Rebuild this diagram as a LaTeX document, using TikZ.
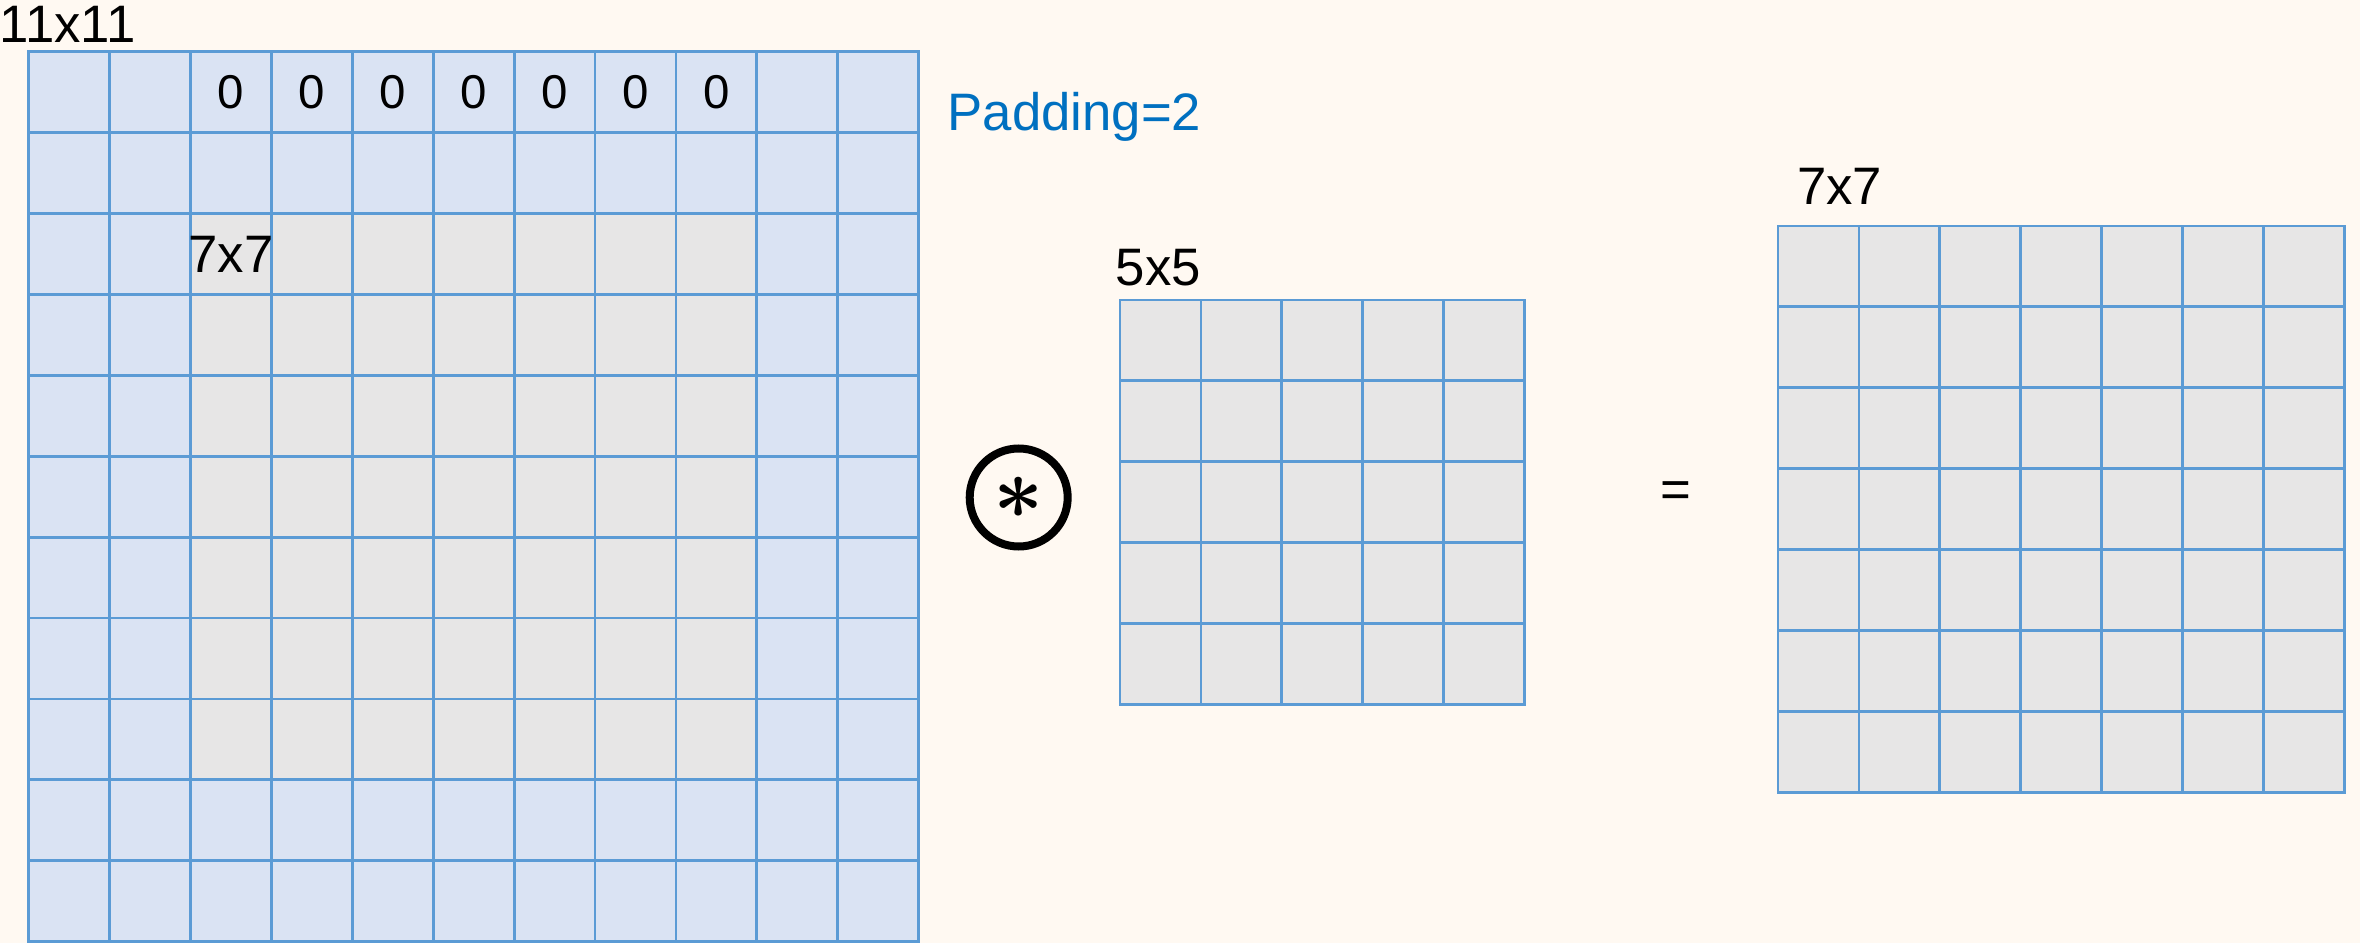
\documentclass[tikz,border=0pt]{standalone}
\usepackage{fontspec}
\setmainfont{Liberation Sans}
\usetikzlibrary{calc}
\definecolor{paper}{HTML}{FFF9F2}
\definecolor{padblue}{HTML}{DAE3F3}
\definecolor{coregray}{HTML}{E7E6E6}
\definecolor{gridline}{HTML}{5B9BD5}
\definecolor{padtext}{HTML}{0070C0}
\tikzstyle{cell}=[draw=gridline, line width=0.8pt, minimum size=0.809cm, inner sep=0pt, outer sep=0pt]
\tikzstyle{dim}=[anchor=base west, inner sep=0pt, font=\fontsize{15}{18}\selectfont]
\tikzstyle{zero}=[inner sep=0pt, font=\fontsize{13.5}{16}\selectfont]

\begin{document}
\begin{tikzpicture}
    \useasboundingbox (0, 0) rectangle (23.6, 9.43);
    \fill[paper] (0, 0) rectangle (23.6, 9.43);
    \def\cw{0.809}

    \coordinate (in) at (0.287, 8.913);
    \coordinate (ker) at (11.2, 6.43);
    \coordinate (out) at (17.78, 7.17);

    % padded input, 11x11
    \foreach \i in {0,...,10}
        \foreach \j in {0,...,10} {
            \pgfmathtruncatemacro{\core}{(\i>1)*(\i<9)*(\j>1)*(\j<9)}
            \ifnum\core=1 \def\shade{coregray}\else \def\shade{padblue}\fi
            \node[cell, fill=\shade] (in-\i-\j) at ($(in) + (\i*\cw + 0.5*\cw, -\j*\cw - 0.5*\cw)$) {};
        }

    \foreach \i in {2,...,8}
        \node[zero] at (in-\i-0) {0};

    \node[dim] (insize) at ($(in) + (-0.297, 0.087)$) {11x11};
    \node[inner sep=0pt, font=\fontsize{15}{18}\selectfont] (coresize) at (in-2-2) {7x7};
    \node[dim, text=padtext] (pad) at ($(in-10-0.east) + (0.284, -0.379)$) {Padding=2};

    % kernel, 5x5
    \foreach \i in {0,...,4}
        \foreach \j in {0,...,4}
            \node[cell, fill=coregray] (ker-\i-\j) at ($(ker) + (\i*\cw + 0.5*\cw, -\j*\cw - 0.5*\cw)$) {};
    \node[dim] (kersize) at ($(ker) + (-0.05, 0.15)$) {5x5};

    % output, 7x7
    \foreach \i in {0,...,6}
        \foreach \j in {0,...,6}
            \node[cell, fill=coregray] (out-\i-\j) at ($(out) + (\i*\cw + 0.5*\cw, -\j*\cw - 0.5*\cw)$) {};
    \node[dim] (outsize) at ($(out) + (0.185, 0.21)$) {7x7};

    % operators
    \node[circle, draw, line width=0.08cm, minimum size=0.98cm, inner sep=0pt] (conv) at (10.187, 4.455) {};
    \node[inner sep=0pt, font=\fontsize{28}{32}\selectfont\boldmath] (star) at (conv) {$\ast$};
    \node[inner sep=0pt, font=\fontsize{15}{18}\selectfont] (eq) at (16.76, 4.48) {=};
\end{tikzpicture}
\end{document}
